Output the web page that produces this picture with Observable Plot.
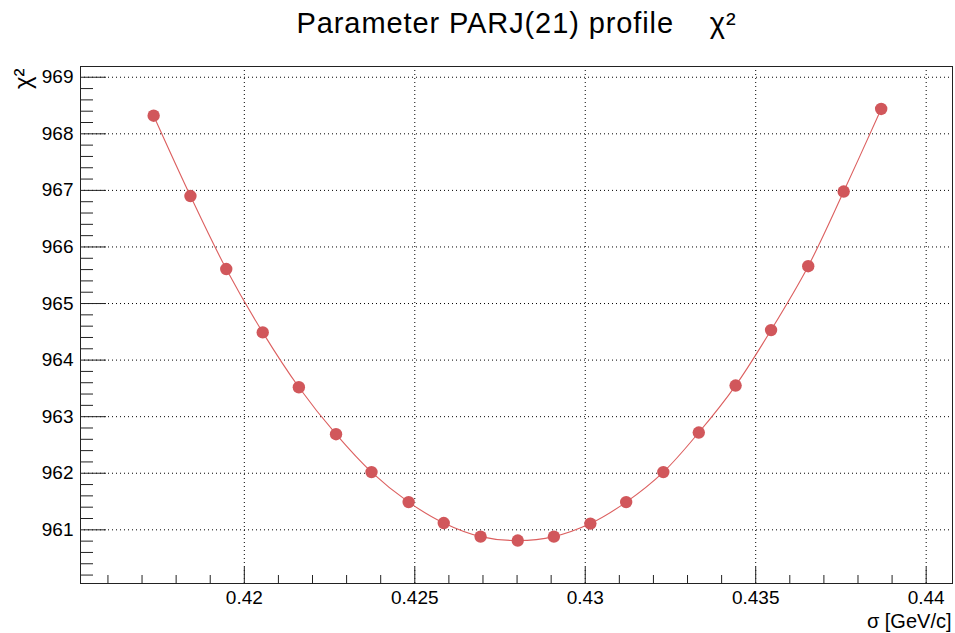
<!DOCTYPE html>
<html><head><meta charset="utf-8">
<script src="https://cdn.jsdelivr.net/npm/d3@7"></script>
<script src="https://cdn.jsdelivr.net/npm/@observablehq/plot@0.6"></script>
<style>html,body{margin:0;padding:0;background:#fff}</style>
</head><body><div id="chart"></div>
<script>
// Data
const sigma = [0.41734, 0.41842, 0.41947, 0.42054, 0.42160, 0.42269, 0.42373, 0.42482, 0.42585, 0.42693, 0.42802,
               0.42908, 0.43015, 0.43120, 0.43229, 0.43333, 0.43441, 0.43545, 0.43654, 0.43758, 0.43868];
const chi2 = [968.32, 966.90, 965.61, 964.49, 963.52, 962.69, 962.02, 961.49, 961.12, 960.88, 960.81,
              960.88, 961.11, 961.49, 962.02, 962.72, 963.55, 964.53, 965.66, 966.98, 968.44];

const xMajorTicks = [0.42, 0.425, 0.43, 0.435, 0.44];
const xTickLabels = ["0.42", "0.425", "0.43", "0.435", "0.44"];
const yMajorTicks = [961, 962, 963, 964, 965, 966, 967, 968, 969];
const yTickLabels = ["961", "962", "963", "964", "965", "966", "967", "968", "969"];
const xMinorTicks = d3.range(416, 441).filter(v => v % 5 !== 0).map(v => v / 1000);
const yMinorTicks = d3.range(9602, 9692, 2).filter(v => v % 10 !== 0).map(v => v / 10);

const titleText = "Parameter PARJ(21) profile\u00a0\u00a0\u00a0\u00a0χ²";
const xTitle = "σ [GeV/c]";
const yTitle = "χ²";

const table = sigma.map((s, i) => ({s, c: chi2[i]}));

const chart = Plot.plot({
  width: 955,
  height: 633,
  marginLeft: 80,
  marginRight: 3,
  marginTop: 66,
  marginBottom: 50,
  style: {fontFamily: "'Liberation Sans', Arial, Helvetica, sans-serif", fontSize: "19px", background: "#fff", color: "#000", overflow: "visible"},
  x: {domain: [0.415195, 0.440772]},
  y: {domain: [960.051, 969.19]},
  marks: [
    Plot.gridX(xMajorTicks, {stroke: "#000", strokeOpacity: 1, strokeDasharray: "1,3"}),
    Plot.gridY(yMajorTicks, {stroke: "#000", strokeOpacity: 1, strokeDasharray: "1,3"}),
    Plot.axisY(yMajorTicks, {anchor: "left", tickSize: -26, fill: "none", stroke: "#222", label: null}),
    Plot.axisY(yMinorTicks, {anchor: "left", tickSize: -13, fill: "none", stroke: "#222", label: null}),
    Plot.axisX(xMajorTicks, {anchor: "bottom", tickSize: -16, fill: "none", stroke: "#222", label: null}),
    Plot.axisX(xMinorTicks, {anchor: "bottom", tickSize: -8, fill: "none", stroke: "#222", label: null}),
    Plot.axisY(yMajorTicks, {anchor: "left", tickSize: 0, tickPadding: 7, label: null,
      tickFormat: d => yTickLabels[yMajorTicks.indexOf(d)]}),
    Plot.axisX(xMajorTicks, {anchor: "bottom", tickSize: 0, tickPadding: 7, label: null,
      tickFormat: d => xTickLabels[xMajorTicks.indexOf(d)]}),
    Plot.frame({stroke: "#222"}),
    Plot.line(table, {x: "s", y: "c", stroke: "#dc5f5f", strokeWidth: 1.1, curve: "catmull-rom"}),
    Plot.dot(table, {x: "s", y: "c", r: 6.2, fill: "#d1575b", stroke: "none"}),
    Plot.text([titleText], {text: d => d, frameAnchor: "top", lineAnchor: "bottom", dy: -34, fontSize: 29}),
    Plot.text([yTitle], {text: d => d, frameAnchor: "top-left", rotate: -90, textAnchor: "end", lineAnchor: "middle", dx: -57, dy: 2, fontSize: 24}),
    Plot.text([xTitle], {text: d => d, frameAnchor: "bottom-right", textAnchor: "end", lineAnchor: "bottom", dx: -1, dy: 44, fontSize: 20})
  ]
});
d3.select(chart).selectAll("text").filter(function() { return this.textContent === titleText; })
  .style("letter-spacing", "0.9px");
document.getElementById("chart").appendChild(chart);
</script>
</body></html>
